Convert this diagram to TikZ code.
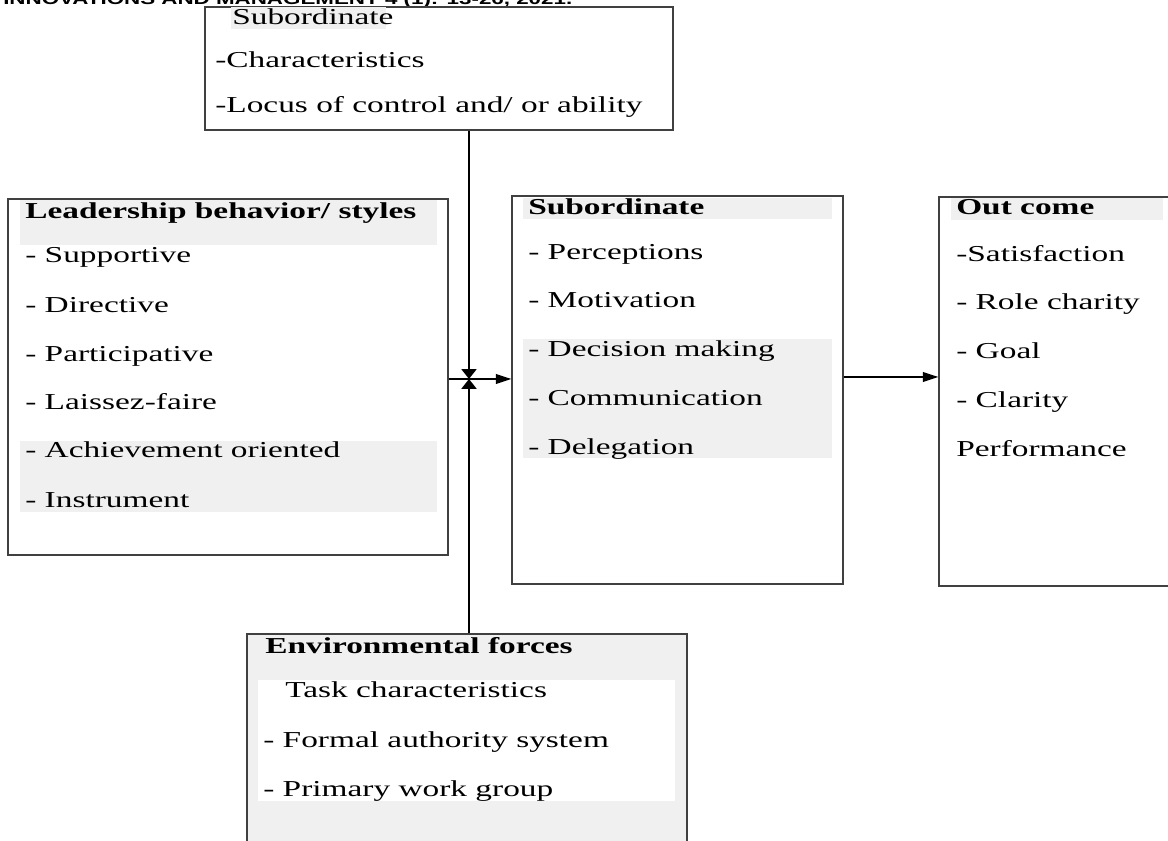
\documentclass[tikz,border=0pt]{standalone}
\usepackage{fontspec}
\setmainfont{Liberation Serif}[FakeStretch=1.465]
\newfontfamily\runhead{Liberation Sans}[FakeStretch=1.42]
\usetikzlibrary{arrows.meta}

\definecolor{bandgray}{HTML}{F0F0F0}

\tikzset{
	box/.style={rectangle, draw=black!75, line width=1pt},
	band/.style={fill=bandgray},
	item/.style={anchor=base west, inner sep=0pt, font=\fontsize{16.2}{20}\selectfont},
	head/.style={item, font=\fontsize{16.2}{20}\selectfont\bfseries},
	vline/.style={line width=1.9pt, -{Triangle[length=7pt, width=10.5pt]}},
	harrow/.style={line width=0.9pt, -{Triangle[length=11pt, width=7pt]}}
}

\begin{document}
\begin{tikzpicture}
		
		\useasboundingbox (0,0) rectangle (29.2,21.025);
		\clip (0,0) rectangle (29.2,21.025);
		
		%Running head (cut by the page edge)
		\node (runningHead) at (0.075,20.9) [anchor=base west, inner sep=0pt, 
		font=\runhead\fontsize{11.2}{13}\selectfont\bfseries]{INNOVATIONS AND MANAGEMENT 4 (1): 13-26, 2021.};
		
		%Boxes
		\node (topBox) at (10.975,19.3125) [box, minimum width=11.7cm, minimum height=3.075cm]{};
		\node (leaderBox) at (5.7,11.6) [box, minimum width=11cm, minimum height=8.9cm]{};
		\node (subBox) at (16.9375,11.275) [box, minimum width=8.275cm, minimum height=9.7cm]{};
		\node (outBox) at (26.6125,11.2375) [box, minimum width=6.275cm, minimum height=9.725cm]{};
		\node (envBox) at (11.675,2.35) [box, fill=bandgray, minimum width=11cm, 
		minimum height=5.65cm]{};
		
		%Shaded bands
		\fill[band] (5.775,20.85) rectangle (9.65,20.3);
		\fill[band] (0.5,16.025) rectangle (10.925,14.9);
		\fill[band] (0.5,10.0) rectangle (10.925,8.225);
		\fill[band] (13.075,16.075) rectangle (20.8,15.55);
		\fill[band] (13.075,12.55) rectangle (20.8,9.575);
		\fill[band] (23.775,16.075) rectangle (29.075,15.525);
		\fill[white] (6.45,4.025) rectangle (16.875,1.0);
		
		%Subordinate characteristics
		\node (topHead) at (5.8,20.4) [item]{Subordinate};
		\node (topItemA) at (5.375,19.325) [item]{-Characteristics};
		\node (topItemB) at (5.375,18.2) [item]{-Locus of control and/ or ability};
		
		%Leadership styles
		\node (leaderHead) at (0.625,15.55) [head]{Leadership behavior/ styles};
		\node (leaderItemA) at (0.625,14.45) [item]{- Supportive};
		\node (leaderItemB) at (0.625,13.2) [item]{- Directive};
		\node (leaderItemC) at (0.625,11.975) [item]{- Participative};
		\node (leaderItemD) at (0.625,10.775) [item]{- Laissez-faire};
		\node (leaderItemE) at (0.625,9.575) [item]{- Achievement oriented};
		\node (leaderItemF) at (0.625,8.325) [item]{- Instrument};
		
		%Subordinate
		\node (subHead) at (13.2,15.65) [head]{Subordinate};
		\node (subItemA) at (13.2,14.525) [item]{- Perceptions};
		\node (subItemB) at (13.2,13.325) [item]{- Motivation};
		\node (subItemC) at (13.2,12.1) [item]{- Decision making};
		\node (subItemD) at (13.2,10.875) [item]{- Communication};
		\node (subItemE) at (13.2,9.65) [item]{- Delegation};
		
		%Out come
		\node (outHead) at (23.9,15.65) [head]{Out come};
		\node (outItemA) at (23.9,14.475) [item]{-Satisfaction};
		\node (outItemB) at (23.9,13.275) [item]{- Role charity};
		\node (outItemC) at (23.9,12.05) [item]{- Goal};
		\node (outItemD) at (23.9,10.825) [item]{- Clarity};
		\node (outItemE) at (23.9,9.6) [item]{Performance};
		
		%Environmental forces
		\node (envHead) at (6.625,4.675) [head]{Environmental forces};
		\node (envItemA) at (7.125,3.575) [item]{Task characteristics};
		\node (envItemB) at (6.575,2.325) [item]{- Formal authority system};
		\node (envItemC) at (6.575,1.1) [item]{- Primary work group};
		
		%Arrows
		\coordinate (junction) at (11.725,11.55);
		\draw[vline] (junction |- topBox.south) -- (junction);
		\draw[vline] (junction |- envBox.north) -- (junction);
		\draw[harrow] (leaderBox.east |- junction) -- (subBox.west |- junction);
		\draw[harrow] (subBox.east |- 0,11.6) -- (outBox.west |- 0,11.6);
		
		\end{tikzpicture}
\end{document}
